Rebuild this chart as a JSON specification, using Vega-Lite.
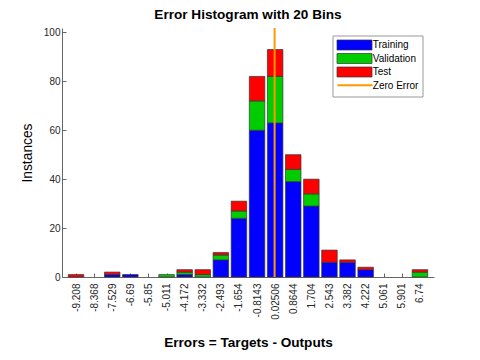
{
  "$schema": "https://vega.github.io/schema/vega-lite/v6.json",
  "width": 372,
  "height": 249,
  "autosize": "none",
  "padding": {"left": 62, "top": 28, "right": 46, "bottom": 83},
  "background": "white",
  "config": {
    "view": {"stroke": null},
    "font": "Liberation Sans",
    "axis": {"labelFont": "Liberation Sans", "titleFont": "Liberation Sans", "labelColor": "#262626", "titleColor": "#000000", "domainColor": "#666666", "tickColor": "#666666", "grid": false, "labelOverlap": false}
  },
  "title": {"text": "Error Histogram with 20 Bins", "font": "Liberation Sans", "fontSize": 13.6, "fontWeight": "bold", "color": "#000000", "anchor": "middle", "offset": 5},
  "datasets": {
    "counts": [
      {"bin": -9.208, "set": "Test", "k": 3, "n": 1},
      {"bin": -7.529, "set": "Training", "k": 1, "n": 1},
      {"bin": -7.529, "set": "Test", "k": 3, "n": 1},
      {"bin": -6.69, "set": "Training", "k": 1, "n": 1},
      {"bin": -5.011, "set": "Validation", "k": 2, "n": 1},
      {"bin": -4.172, "set": "Training", "k": 1, "n": 1},
      {"bin": -4.172, "set": "Validation", "k": 2, "n": 1},
      {"bin": -4.172, "set": "Test", "k": 3, "n": 1},
      {"bin": -3.332, "set": "Validation", "k": 2, "n": 1},
      {"bin": -3.332, "set": "Test", "k": 3, "n": 2},
      {"bin": -2.493, "set": "Training", "k": 1, "n": 7},
      {"bin": -2.493, "set": "Validation", "k": 2, "n": 2},
      {"bin": -2.493, "set": "Test", "k": 3, "n": 1},
      {"bin": -1.654, "set": "Training", "k": 1, "n": 24},
      {"bin": -1.654, "set": "Validation", "k": 2, "n": 3},
      {"bin": -1.654, "set": "Test", "k": 3, "n": 4},
      {"bin": -0.8143, "set": "Training", "k": 1, "n": 60},
      {"bin": -0.8143, "set": "Validation", "k": 2, "n": 12},
      {"bin": -0.8143, "set": "Test", "k": 3, "n": 10},
      {"bin": 0.02506, "set": "Training", "k": 1, "n": 63},
      {"bin": 0.02506, "set": "Validation", "k": 2, "n": 19},
      {"bin": 0.02506, "set": "Test", "k": 3, "n": 11},
      {"bin": 0.8644, "set": "Training", "k": 1, "n": 39},
      {"bin": 0.8644, "set": "Validation", "k": 2, "n": 5},
      {"bin": 0.8644, "set": "Test", "k": 3, "n": 6},
      {"bin": 1.704, "set": "Training", "k": 1, "n": 29},
      {"bin": 1.704, "set": "Validation", "k": 2, "n": 5},
      {"bin": 1.704, "set": "Test", "k": 3, "n": 6},
      {"bin": 2.543, "set": "Training", "k": 1, "n": 6},
      {"bin": 2.543, "set": "Test", "k": 3, "n": 5},
      {"bin": 3.382, "set": "Training", "k": 1, "n": 6},
      {"bin": 3.382, "set": "Test", "k": 3, "n": 1},
      {"bin": 4.222, "set": "Training", "k": 1, "n": 3},
      {"bin": 4.222, "set": "Test", "k": 3, "n": 1},
      {"bin": 6.74, "set": "Validation", "k": 2, "n": 2},
      {"bin": 6.74, "set": "Test", "k": 3, "n": 1}
    ],
    "zero": [{"err": 0, "lbl": "Zero Error"}]
  },
  "layer": [
    {
      "data": {"name": "counts"},
      "mark": {"type": "bar", "width": 15.5, "strokeWidth": 0.7},
      "encoding": {
        "x": {
          "field": "bin", "type": "quantitative",
          "scale": {"domain": [-9.628, 7.16], "nice": false, "zero": false},
          "axis": {
            "title": "Errors = Targets - Outputs",
            "titleFontSize": 13.6, "titleFontWeight": "bold",
            "titleBaseline": "alphabetic", "titleY": 69,
            "values": [-9.208, -8.368, -7.529, -6.69, -5.85, -5.011, -4.172, -3.332, -2.493, -1.654, -0.8143, 0.02506, 0.8644, 1.704, 2.543, 3.382, 4.222, 5.061, 5.901, 6.74],
            "tickCount": 40,
            "labelExpr": "replace(format(datum.value, '.4~r'), '\u2212', '-')",
            "labelAngle": -90, "labelAlign": "right", "labelBaseline": "middle",
            "labelFontSize": 10, "labelPadding": 10, "tickSize": -4, "labelOverlap": false, "labelFlush": false
          }
        },
        "y": {
          "field": "n", "type": "quantitative", "stack": "zero",
          "scale": {"domain": [0, 101.8], "nice": false},
          "axis": {
            "title": "Instances", "titleFontSize": 13.8, "titleFontWeight": "normal",
            "titleAngle": -90, "titleBaseline": "middle", "titleX": -35, "titleY": 124.5, "titleAlign": "center",
            "values": [0, 20, 40, 60, 80, 100], "tickCount": 20,
            "labelFontSize": 10, "labelPadding": 6, "tickSize": -4
          }
        },
        "color": {
          "field": "set", "type": "nominal",
          "scale": {"domain": ["Training", "Validation", "Test", "Zero Error"], "range": ["#0000ff", "#00cc00", "#ff0000", "transparent"]},
          "legend": {
            "title": null, "orient": "none", "legendX": 270.5, "legendY": 7.5,
            "direction": "vertical",
            "fillColor": "white", "strokeColor": "#999999", "padding": 4,
            "labelFont": "Liberation Sans", "labelFontSize": 10, "labelColor": "#000000",
            "labelOffset": 25.3, "rowPadding": 0.5,
            "symbolType": "M-1,-1H6V1H-1Z", "symbolSize": 100, "symbolOpacity": 1, "symbolStrokeWidth": 0.7
          }
        },
        "stroke": {
          "field": "set", "type": "nominal",
          "scale": {"domain": ["Training", "Validation", "Test", "Zero Error"], "range": ["#333333", "#333333", "#333333", "transparent"]},
          "legend": {
            "title": null, "orient": "none", "legendX": 270.5, "legendY": 7.5,
            "direction": "vertical",
            "fillColor": "white", "strokeColor": "#999999", "padding": 4,
            "labelFont": "Liberation Sans", "labelFontSize": 10, "labelColor": "#000000",
            "labelOffset": 25.3, "rowPadding": 0.5,
            "symbolType": "M-1,-1H6V1H-1Z", "symbolSize": 100, "symbolOpacity": 1, "symbolStrokeWidth": 0.7
          }
        },
        "order": {"field": "k", "type": "quantitative"}
      }
    },
    {
      "data": {"name": "zero"},
      "mark": {"type": "rule", "stroke": "#ff9900", "strokeWidth": 2},
      "encoding": {
        "x": {"field": "err", "type": "quantitative", "axis": {"labelOverlap": false, "tickCount": 40}},
        "strokeDash": {
          "field": "lbl", "type": "nominal",
          "scale": {"domain": ["Zero Error"], "range": [[1, 0]]},
          "legend": {
            "title": null, "orient": "none", "legendX": 270.5, "legendY": 47.3,
            "direction": "vertical", "padding": 4,
            "labelFont": "Liberation Sans", "labelFontSize": 10, "labelExpr": "''",
            "labelOffset": 25.3,
            "symbolType": "M-1,0H6", "symbolSize": 100, "symbolOpacity": 1,
            "symbolStrokeColor": "#ff9900", "symbolStrokeWidth": 2, "symbolFillColor": "transparent"
          }
        }
      }
    }
  ]
}
